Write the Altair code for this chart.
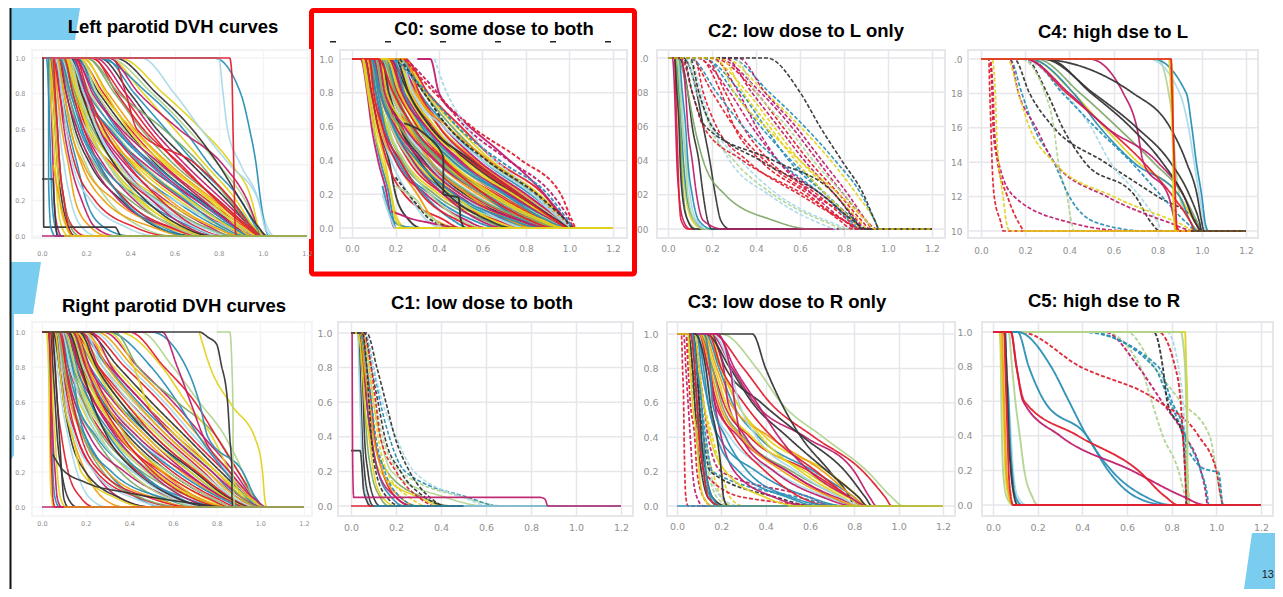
import altair as alt
import pandas as pd

# Every curve is read as the dose (x) at which the volume falls to these levels
Y_LEVELS = [1.0, 0.8, 0.6, 0.4, 0.2, 0.05, 0.0]
X_END = 1.2
COLORS = {"t": "#2a8fb5", "c": "#c01f6e", "y": "#e3d21c", "k": "#353535", "r": "#e0202f",
          "b": "#a9d9e8", "o": "#ef9f12", "g": "#7fa968", "l": "#b2d48f"}
DENSE_CYCLE = ["t", "c", "y", "k", "r", "b", "o", "c", "t", "g", "y", "r", "l"]
TITLES = ["Left parotid DVH curves", "C0: some dose to both", "C2: low dose to L only", "C4: high dse to L",
          "Right parotid DVH curves", "C1: low dose to both", "C3: low dose to R only", "C5: high dse to R"]
X_TICKS = [0.0, 0.2, 0.4, 0.6, 0.8, 1.0, 1.2]
Y_TICKS = [0.0, 0.2, 0.4, 0.6, 0.8, 1.0]

LEFT = [
 [.02,.03,.035,.04,.045,.06,.08],[.03,.04,.045,.05,.055,.07,.09],[.03,.04,.05,.06,.07,.09,.12],[.04,.05,.06,.07,.09,.12,.15],
 [.04,.055,.07,.08,.1,.14,.2],[.05,.07,.08,.1,.13,.18,.25],[.05,.07,.09,.12,.15,.22,.3],[.06,.08,.1,.13,.18,.24,.34],
 [.06,.09,.12,.16,.2,.28,.4],[.04,.06,.07,.08,.1,.13,.17],[.03,.05,.06,.07,.08,.11,.14],[.05,.06,.07,.08,.1,.12,.14],
 [.07,.1,.14,.2,.3,.45,.6],[.08,.12,.17,.25,.38,.55,.68],[.08,.13,.19,.28,.42,.6,.72],[.09,.14,.21,.3,.44,.65,.78],
 [.07,.11,.15,.22,.36,.52,.7],[.1,.15,.2,.32,.5,.7,.82],[.1,.16,.24,.35,.52,.73,.85],[.06,.1,.13,.18,.28,.5,.66],
 [.11,.18,.26,.38,.56,.76,.86],[.12,.2,.28,.4,.6,.8,.9],[.08,.12,.16,.24,.4,.62,.76],[.1,.17,.27,.42,.62,.82,.92],
 [.12,.18,.3,.44,.64,.84,.94],[.13,.22,.32,.46,.66,.86,.96],[.09,.14,.18,.27,.46,.68,.8],[.14,.24,.35,.5,.7,.88,.97],
 [.1,.15,.22,.34,.55,.78,.9],[.15,.26,.38,.52,.72,.9,.98],[.16,.28,.4,.55,.75,.92,.99],[.12,.17,.25,.36,.6,.84,.95],
 [.18,.3,.42,.58,.78,.93,1.0],[.14,.2,.3,.47,.7,.9,.98],[.13,.21,.33,.49,.68,.86,.94],[.2,.33,.45,.6,.8,.94,1.0],
 [.11,.16,.26,.43,.67,.85,.93],[.22,.36,.48,.62,.8,.94,1.0],[.17,.25,.37,.53,.74,.9,.97],[.16,.24,.34,.51,.71,.87,.94],
 [.24,.38,.5,.65,.82,.95,1.0],[.19,.29,.39,.56,.77,.91,.98],[.26,.4,.52,.68,.84,.95,1.01],[.23,.34,.46,.63,.79,.93,.99],
 [.09,.13,.2,.3,.48,.72,.86],[.07,.1,.13,.19,.33,.56,.74],[.15,.23,.36,.54,.73,.88,.96],[.28,.42,.56,.7,.86,.96,1.01],
 [.2,.35,.55,.72,.85,.95,1.0],[.3,.46,.6,.74,.88,.96,1.01],[.32,.38,.43,.7,.86,.95,1.0],[.3,.5,.66,.8,.92,.98,1.01],
 [.25,.48,.64,.76,.9,.97,1.0],[.3,.44,.62,.82,.93,.98,1.02],[.35,.55,.72,.86,.95,.98,1.0],[.33,.52,.68,.8,.9,.98,1.02],
 [.05,.08,.11,.15,.24,.42,.58],[.06,.09,.11,.14,.22,.38,.52],[.11,.19,.29,.41,.58,.78,.9],
 [.08,.11,.16,.23,.35,.58,.75],[.13,.19,.31,.45,.65,.82,.92],[.09,.15,.23,.33,.53,.74,.88],[.17,.27,.41,.57,.76,.89,.95],
 [.1,.14,.19,.26,.38,.58,.72],[.12,.17,.22,.3,.43,.6,.74],[.08,.13,.18,.26,.37,.53,.67],[.14,.2,.26,.36,.5,.66,.78],
 [.11,.16,.21,.31,.45,.62,.76],[.13,.18,.24,.33,.47,.64,.77],[.15,.21,.28,.39,.54,.7,.82],[.12,.19,.25,.35,.51,.69,.81],
]
LEFT_EXTRA = [
 ("b", 0, [0,.45,.6,.72,.85,.98,1.02,1.05,X_END], [1,1,.8,.6,.4,.2,.05,0,0]),
 ("t", 0, [0,.78,.9,.94,.97,.99,1.01,1.03,X_END], [1,1,.8,.6,.4,.2,.05,0,0]),
 ("b", 0, [0,.8,.82,.84,.9,.98,1.01,1.04,X_END], [1,1,.8,.6,.4,.2,.05,0,0]),
 ("k", 0, [0,.005,.006,.007,.008,.33,.36,X_END], [1,1,.6,.2,.05,.05,0,0]),
 ("k", 0, [0,.01,.05,.055,.06,.07,X_END], [.32,.32,.32,.2,.1,0,0]),
 ("r", 0, [0,.85,.86,.865,.87,.875,.88,X_END], [1,1,.9,.6,.3,.05,0,0]),
 ("t", 0, [.02,.03,.03,.04,.06,X_END], [1,1,.3,.05,0,0]),
 ("c", 0, [0,.08,X_END], [0,0,0]),
 ("o", 0, [.05,.1,.14,X_END], [.4,.1,0,0]),
 ("y", 0, [.1,.4,X_END], [0,0,0]),
 ("g", 0, [.3,.9,X_END], [0,0,0]),
]

C0 = [
 [.05,.08,.1,.13,.17,.19,.2],[.04,.07,.09,.12,.16,.18,.2],[.05,.08,.11,.15,.18,.21,.25],[.06,.09,.12,.17,.2,.26,.32],
 [.06,.09,.12,.16,.24,.42,.5],[.07,.1,.13,.18,.26,.34,.42],[.07,.1,.13,.2,.3,.38,.5],[.08,.11,.14,.2,.34,.52,.62],
 [.08,.11,.15,.21,.36,.55,.68],[.08,.12,.16,.23,.38,.6,.72],[.09,.12,.16,.24,.4,.64,.76],[.09,.13,.18,.26,.42,.66,.8],
 [.1,.13,.18,.27,.43,.68,.82],[.1,.14,.19,.28,.45,.7,.84],[.1,.15,.2,.3,.48,.72,.86],[.1,.15,.21,.31,.5,.74,.88],
 [.11,.16,.22,.33,.52,.76,.9],[.11,.16,.23,.34,.54,.78,.92],[.12,.17,.24,.36,.56,.8,.94],[.12,.18,.25,.38,.58,.82,.96],
 [.13,.18,.26,.39,.6,.84,.98],[.13,.19,.27,.41,.62,.86,.98],[.14,.2,.28,.42,.64,.88,1.0],[.14,.21,.3,.44,.66,.9,1.01],
 [.15,.21,.31,.46,.68,.9,1.01],[.15,.22,.32,.47,.7,.92,1.02],[.16,.23,.33,.48,.71,.92,1.02],[.16,.24,.34,.5,.72,.93,1.02],
 [.17,.25,.35,.52,.74,.94,1.02],[.17,.26,.36,.53,.75,.94,1.02],[.18,.27,.37,.54,.76,.95,1.02],[.18,.28,.38,.56,.78,.95,1.02],
 [.2,.29,.4,.57,.79,.96,1.02],[.2,.3,.42,.58,.8,.96,1.02],[.22,.31,.44,.6,.82,.97,1.02],[.22,.33,.46,.62,.84,.97,1.02],
 [.23,.34,.48,.64,.86,.98,1.03],[.24,.35,.5,.66,.88,.98,1.03],[.1,.14,.17,.24,.36,.5,.6],[.09,.12,.15,.22,.33,.46,.54],
 [.12,.16,.2,.28,.42,.58,.7],[.11,.15,.2,.29,.46,.64,.76],[.13,.17,.22,.31,.44,.62,.74],[.08,.1,.14,.22,.32,.48,.58],
 [.14,.19,.24,.34,.5,.68,.8],[.15,.19,.26,.36,.53,.72,.84],[.12,.15,.24,.38,.6,.78,.88],[.16,.2,.28,.4,.6,.78,.9],
 [.11,.14,.22,.35,.55,.8,.93],[.13,.16,.26,.4,.63,.85,.97],[.17,.22,.3,.43,.66,.88,.99],[.15,.18,.29,.45,.69,.9,1.0],
 [.19,.24,.32,.46,.7,.89,1.0],[.18,.23,.34,.49,.73,.92,1.01],[.21,.27,.38,.51,.74,.93,1.01],[.2,.26,.36,.55,.77,.94,1.01],
 [.24,.31,.4,.56,.77,.93,1.0],[.22,.28,.42,.6,.83,.96,1.02],[.25,.3,.44,.63,.85,.97,1.02],[.1,.13,.2,.32,.5,.76,.9],
 [.09,.13,.19,.3,.47,.73,.87],[.14,.2,.27,.4,.6,.83,.95],[.16,.22,.31,.44,.65,.87,.98],[.12,.19,.28,.42,.61,.81,.93],
]
C0_EXTRA = [
 ("c", 0, [.3,.36,.4,.5,.68,.85,.95,1.02,X_END], [1,1,.8,.65,.45,.25,.1,0,0]),
 ("r", 1, [.24,.38,.55,.78,.96,1.01,1.03,X_END], [1,.8,.6,.4,.2,.05,0,0]),
 ("c", 1, [.25,.36,.52,.72,.92,1.0,1.02,X_END], [1,.85,.6,.4,.2,.05,0,0]),
 ("b", 1, [.38,.42,.5,.62,.8,.97,1.02,X_END], [1,.85,.65,.45,.25,.05,0,0]),
 ("k", 1, [.22,.32,.44,.62,.85,.98,1.02,X_END], [1,.82,.6,.4,.2,.05,0,0]),
 ("t", 1, [.2,.36,.5,.7,.9,.99,1.02,X_END], [1,.78,.58,.38,.2,.05,0,0]),
 ("k", 0, [.24,.34,.42,.42,.49,.5,.52,X_END], [.62,.55,.42,.2,.18,.05,0,0]),
 ("k", 1, [.2,.26,.31,.36,.5,X_END], [.3,.2,.12,.05,0,0]),
 ("c", 0, [.18,.22,.26,.36,.5,X_END], [.1,.08,.06,.03,0,0]),
 ("t", 0, [.14,.17,.2,.26,.34,X_END], [.25,.1,.03,.005,0,0]),
 ("l", 0, [.2,.26,.3,.33,.38,.42,X_END], [.25,.2,.16,.1,.05,0,0]),
 ("b", 0, [.14,.18,.2,X_END], [.2,.05,0,0]),
 ("y", 0, [.05,.1,.16,.18,.2,.24,X_END], [1,.6,.3,.2,.05,0,0]),
 ("y", 0, [.2,.6,X_END], [0,0,0]),
]

C2_LOW = [
 ("c",[.02,.03,.035,.04,.05,.07,.1]),("r",[.03,.035,.04,.045,.05,.06,.09]),("y",[.03,.05,.055,.065,.08,.11,.16]),
 ("t",[.04,.05,.06,.07,.085,.12,.17]),("g",[.03,.045,.055,.06,.07,.09,.13]),("k",[.03,.04,.05,.055,.065,.09,.12]),
 ("b",[.04,.06,.07,.085,.1,.13,.18]),("l",[.04,.055,.065,.08,.09,.12,.16]),("t",[.05,.065,.08,.09,.11,.14,.2]),
 ("k",[.05,.09,.11,.14,.16,.18,.2]),("k",[.07,.13,.16,.19,.215,.24,.28]),("g",[.04,.09,.12,.16,.26,.48,.65]),
 ("c",[.06,.08,.09,.11,.13,.16,.25]),
]
C2_DASH = [
 ("r",[.1,.2,.3,.44,.66,.84,.88]),("c",[.13,.28,.38,.5,.7,.85,.89]),("t",[.15,.33,.44,.55,.72,.85,.9]),
 ("y",[.18,.36,.48,.6,.76,.87,.91]),("r",[.2,.4,.52,.64,.78,.88,.92]),("c",[.22,.42,.56,.68,.8,.9,.95]),
 ("y",[.25,.44,.6,.74,.86,.94,.96]),("t",[.28,.46,.62,.76,.88,.94,.96]),("r",[.12,.16,.22,.36,.6,.8,.88]),
 ("b",[.08,.13,.2,.33,.5,.72,.85]),("b",[.1,.15,.2,.28,.46,.66,.78]),("l",[.09,.14,.19,.3,.48,.7,.82]),
 ("t",[.16,.3,.42,.56,.72,.82,.86]),("r",[.14,.24,.3,.42,.64,.78,.84]),("c",[.2,.32,.4,.5,.66,.8,.86]),
 ("y",[.24,.34,.46,.58,.72,.84,.88]),("c",[.26,.38,.5,.62,.76,.86,.9]),("r",[.17,.26,.34,.46,.68,.82,.87]),
 ("l",[.3,.4,.54,.66,.8,.9,.93]),("t",[.1,.22,.34,.5,.7,.83,.87]),("c",[.32,.44,.58,.7,.82,.9,.93]),
 ("r",[.06,.11,.16,.34,.62,.8,.87]),("k",[.07,.11,.17,.48,.76,.85,.88]),("k",[.45,.6,.69,.79,.89,.94,.96]),
 ("k",[.1,.14,.2,.42,.7,.84,.9]),("y",[.22,.3,.44,.6,.78,.9,.94]),
]

C4_SOLID = [
 ("l",[.8,.85,.87,.88,.9,.95,1.0]),("b",[.76,.9,.94,.965,.99,1.01,1.02]),("t",[.78,.93,.955,.975,1.0,1.015,1.03]),
 ("g",[.25,.45,.62,.78,.92,.98,1.0]),("y",[.22,.42,.56,.71,.9,.97,1.0]),("t",[.22,.42,.54,.69,.9,.95,.98]),
 ("r",[.2,.39,.57,.735,.87,.95,.97]),("c",[.2,.4,.57,.8,.92,.97,1.0]),("c",[.49,.645,.706,.735,.85,.88,.9]),
 ("k",[.3,.5,.68,.82,.92,.97,1.0]),("k",[.28,.51,.706,.857,.947,.99,1.0]),("k",[.25,.69,.857,.93,.98,1.0,1.01]),
 ("y",[.85,.86,.865,.87,.87,.875,.88]),("o",[.86,.87,.87,.875,.88,.88,.885]),("r",[.86,.865,.87,.875,.88,.885,.89]),
]
C4_DASH = [
 ("k",[.15,.22,.33,.56,.8,.98,1.0]),("k",[.2,.3,.37,.47,.7,.77,.81]),("l",[.18,.29,.33,.35,.39,.41,.42]),
 ("b",[.18,.38,.5,.585,.72,.8,.82]),("t",[.13,.185,.24,.33,.4,.52,.75]),("c",[.13,.17,.25,.33,.57,.85,.97]),
 ("y",[.12,.17,.22,.33,.6,.89,.98]),("c",[.04,.055,.06,.08,.15,.4,.68]),("r",[.04,.05,.055,.075,.12,.17,.2]),
 ("r",[.035,.04,.045,.05,.06,.09,.1]),("y",[.05,.065,.07,.08,.1,.115,.13]),("t",[.22,.37,.52,.68,.82,.93,.98]),
]
C4_BASE = [("y", 1, [.2,1.0,X_END], [0,0,0]), ("k", 0, [.95,1.02,X_END], [0,0,0])]

RIGHT = [
 [.03,.035,.04,.045,.05,.06,.08],[.03,.04,.045,.05,.06,.07,.09],[.04,.045,.05,.06,.07,.085,.11],[.04,.05,.06,.07,.09,.12,.16],
 [.04,.06,.07,.09,.12,.18,.24],[.05,.07,.09,.12,.16,.22,.3],[.05,.08,.1,.14,.2,.28,.38],[.06,.08,.11,.16,.24,.36,.5],
 [.06,.09,.13,.2,.3,.44,.56],[.07,.1,.15,.24,.36,.54,.66],[.07,.11,.17,.26,.4,.58,.72],[.08,.12,.19,.29,.44,.62,.76],
 [.08,.13,.2,.31,.48,.66,.8],[.09,.14,.22,.33,.5,.7,.84],[.09,.15,.24,.36,.53,.72,.86],[.1,.16,.25,.38,.56,.75,.87],
 [.1,.17,.27,.4,.58,.78,.88],[.11,.18,.28,.42,.6,.8,.9],[.11,.19,.3,.44,.62,.82,.92],[.12,.2,.31,.46,.64,.83,.94],
 [.12,.21,.33,.48,.66,.84,.96],[.13,.22,.34,.5,.68,.85,.98],[.13,.24,.36,.52,.7,.86,.98],[.14,.25,.38,.54,.72,.86,1.0],
 [.14,.26,.4,.56,.74,.87,1.0],[.15,.28,.42,.58,.76,.88,1.0],[.16,.3,.44,.6,.78,.9,1.0],[.17,.31,.46,.62,.8,.92,1.01],
 [.18,.33,.48,.64,.8,.93,1.01],[.2,.35,.5,.66,.82,.95,1.02],[.21,.38,.54,.68,.84,.96,1.02],[.23,.4,.56,.7,.85,.96,1.02],
 [.25,.42,.58,.72,.86,.96,1.02],[.28,.44,.6,.74,.88,.97,1.02],[.3,.5,.62,.72,.84,.94,1.0],[.33,.44,.62,.8,.9,.97,1.02],
 [.35,.55,.66,.78,.86,.92,.97],[.4,.56,.7,.8,.9,.98,1.02],[.45,.6,.72,.84,.92,.97,1.0],[.5,.66,.72,.76,.92,.98,1.02],
 [.55,.62,.68,.74,.86,.97,1.03],[.3,.42,.48,.62,.8,.95,1.02],[.05,.08,.1,.13,.2,.36,.5],[.06,.09,.12,.16,.25,.45,.62],
 [.07,.09,.11,.15,.24,.42,.6],[.08,.1,.13,.19,.3,.52,.7],[.08,.11,.15,.22,.38,.6,.78],[.09,.12,.16,.25,.42,.66,.82],
 [.1,.14,.19,.28,.46,.7,.84],[.11,.15,.21,.32,.5,.72,.86],[.12,.17,.24,.35,.55,.76,.87],[.13,.19,.26,.38,.58,.78,.88],
 [.14,.2,.28,.42,.62,.82,.92],[.15,.22,.3,.44,.65,.84,.94],[.16,.24,.34,.48,.68,.85,.96],[.17,.25,.36,.5,.7,.86,.97],
 [.18,.26,.38,.52,.71,.87,.98],[.19,.28,.4,.55,.73,.88,.99],[.2,.3,.43,.58,.76,.9,1.0],[.22,.32,.46,.6,.78,.92,1.01],
 [.1,.14,.16,.2,.32,.56,.72],[.07,.1,.14,.19,.28,.46,.66],[.06,.08,.1,.14,.18,.34,.48],[.09,.11,.14,.18,.27,.5,.68],
 [.1,.15,.2,.27,.4,.58,.72],[.12,.16,.22,.31,.45,.63,.77],[.11,.17,.24,.34,.49,.66,.79],[.13,.18,.26,.36,.52,.7,.83],
 [.12,.18,.23,.3,.43,.62,.78],[.14,.2,.27,.37,.51,.69,.84],[.09,.13,.18,.26,.42,.6,.74],[.15,.21,.29,.39,.55,.72,.85],
]
RIGHT_EXTRA = [
 ("y", 0, [0,.02,.03,.035,.04,.045,.05,X_END], [1,1,.8,.4,.1,.05,0,0]),
 ("r", 0, [0,.03,.04,.04,.045,.05,.06,X_END], [1,1,.8,.4,.2,.05,0,0]),
 ("k", 0, [.05,.06,.07,.08,.09,.1,.12,X_END], [1,.8,.6,.4,.2,.05,0,0]),
 ("k", 0, [.05,.09,.2,.4,.7,.85,X_END], [.3,.22,.14,.08,.02,0,0]),
 ("y", 0, [.72,.77,.87,.98,1.01,1.02,1.03,X_END], [1,.8,.58,.38,.2,.05,0,0]),
 ("l", 0, [.8,.86,.87,.875,.875,.88,.88,X_END], [1,1,.8,.5,.2,.05,0,0]),
 ("k", 0, [0,.72,.76,.8,.82,.85,.86,.87,.87,.875,X_END], [1,1,.97,.93,.82,.6,.4,.2,.05,0,0]),
 ("g", 0, [.875,1.0,X_END], [.1,0,0]),
 ("c", 0, [0,.1,X_END], [0,0,0]),
 ("o", 0, [.1,.7,X_END], [0,0,0]),
 ("g", 0, [.7,1.1,X_END], [0,0,0]),
]

C1 = [
 ("y",[.03,.05,.07,.085,.13,.3,.42]),("g",[.04,.06,.08,.1,.16,.32,.45]),("l",[.05,.08,.1,.13,.18,.42,.6]),
 ("t",[.04,.06,.07,.09,.12,.18,.24]),("r",[.05,.07,.09,.105,.14,.2,.27]),("c",[.04,.055,.07,.09,.12,.2,.28]),
 ("g",[.035,.05,.06,.07,.09,.13,.17]),("k",[.04,.05,.055,.06,.075,.1,.13]),("k",[.03,.04,.045,.05,.06,.08,.1]),
 ("b",[.03,.035,.04,.045,.05,.07,.09]),("y",[.03,.05,.06,.08,.1,.14,.2]),("o",[.04,.06,.08,.1,.14,.22,.3]),
]
C1_DASH = [
 ("l",[.05,.08,.11,.14,.22,.5,.68]),("t",[.06,.1,.13,.17,.24,.52,.66]),("b",[.06,.1,.14,.2,.28,.5,.62]),
 ("k",[.06,.09,.12,.15,.22,.33,.43]),("k",[.07,.115,.155,.195,.26,.35,.42]),("r",[.05,.09,.11,.13,.2,.3,.38]),
 ("y",[.05,.08,.1,.12,.16,.26,.34]),("t",[.04,.07,.09,.11,.15,.22,.3]),("k",[.05,.07,.08,.09,.11,.16,.22]),
]
C1_EXTRA = [
 ("k", 0, [0,.01,.04,.05,.055,.07,.085,X_END], [.32,.32,.32,.2,.1,.03,0,0]),
 ("t", 0, [.1,.7,X_END], [0,0,0]),
 ("b", 0, [.5,1.0,X_END], [0,0,0]),
 ("c", 0, [.005,.006,.008,.012,.84,.862,.875,X_END], [1,.6,.2,.05,.05,.04,0,0]),
 ("r", 0, [0,.1], [0,0]),
]

C3 = [
 ("l",[.2,.36,.47,.66,.86,.97,1.02]),("r",[.16,.3,.42,.62,.84,.94,.97]),("c",[.15,.25,.35,.58,.8,.87,.9]),
 ("k",[.15,.22,.38,.57,.76,.85,.88]),("k",[.34,.4,.47,.56,.69,.78,.8]),("y",[.12,.2,.27,.4,.68,.82,.86]),
 ("t",[.13,.19,.25,.37,.62,.8,.85]),("r",[.1,.16,.21,.33,.6,.78,.84]),("o",[.12,.18,.24,.42,.66,.8,.86]),
 ("c",[.1,.14,.17,.28,.5,.7,.8]),("b",[.1,.13,.16,.24,.44,.68,.8]),("t",[.09,.12,.14,.19,.36,.6,.76]),
 ("c",[.12,.15,.17,.2,.26,.44,.6]),("y",[.08,.1,.12,.15,.22,.4,.55]),("r",[.1,.14,.18,.26,.4,.56,.7]),
 ("g",[.11,.16,.2,.3,.52,.74,.82]),("t",[.09,.11,.14,.18,.28,.5,.64]),("c",[.14,.21,.23,.31,.5,.72,.85]),
 ("y",[.15,.2,.27,.38,.56,.75,.82]),("k",[.13,.24,.34,.5,.68,.82,.86]),("r",[.14,.2,.3,.43,.63,.78,.84]),
 ("b",[.16,.24,.28,.36,.54,.74,.84]),("y",[.11,.17,.22,.34,.58,.77,.86]),("c",[.18,.24,.26,.29,.44,.66,.8]),
 ("o",[.1,.15,.19,.29,.48,.7,.83]),("t",[.12,.15,.16,.22,.32,.52,.72]),("c",[.18,.26,.36,.46,.6,.78,.86]),
 ("k",[.08,.13,.15,.18,.2,.21,.23]),("k",[.05,.07,.08,.09,.11,.14,.2]),("t",[.06,.08,.09,.105,.12,.15,.18]),
 ("k",[.07,.09,.1,.11,.13,.16,.22]),("t",[.07,.09,.11,.12,.13,.16,.2]),("r",[.06,.08,.09,.1,.12,.14,.2]),
 ("y",[.05,.06,.07,.09,.1,.12,.16]),
]
C3_DASH = [
 ("r",[.02,.025,.03,.032,.035,.04,.05]),("c",[.03,.04,.05,.06,.07,.09,.12]),("y",[.05,.07,.09,.12,.16,.2,.25]),
 ("b",[.05,.08,.1,.13,.15,.2,.28]),("g",[.04,.06,.08,.1,.12,.16,.22]),("r",[.04,.05,.06,.08,.09,.12,.16]),
 ("l",[.05,.07,.09,.11,.14,.18,.24]),("y",[.06,.09,.12,.16,.2,.24,.3]),("c",[.08,.1,.12,.14,.2,.6,.7]),
 ("t",[.07,.09,.11,.13,.16,.55,.75]),("k",[.07,.09,.1,.12,.15,.45,.62]),("r",[.05,.07,.09,.1,.12,.3,.75]),
]
C3_BASE = [("t", 0, [0,.05,X_END], [0,0,0]), ("y", 0, [.5,.9,X_END], [0,0,0])]

C5_SOLID = [
 ("l",[.03,.035,.037,.04,.045,.06,.09]),("y",[.03,.04,.045,.05,.055,.07,.09]),("o",[.04,.045,.05,.055,.06,.075,.09]),
 ("l",[.07,.085,.1,.12,.14,.175,.2]),("b",[.055,.06,.07,.08,.09,.11,.15]),("t",[.055,.06,.07,.075,.085,.1,.13]),
 ("k",[.05,.06,.065,.07,.08,.095,.11]),("r",[.05,.055,.06,.065,.07,.08,.09]),
 ("y",[.86,.865,.87,.87,.87,.875,.88]),("l",[.84,.86,.865,.87,.87,.875,.88]),
 ("t",[.11,.26,.34,.42,.53,.68,.8]),("t",[.11,.16,.23,.42,.515,.635,.78]),
 ("c",[.08,.105,.135,.3,.62,.85,.95]),("r",[.08,.105,.14,.38,.65,.77,.83]),
]
C5_DASH = [
 ("l",[.5,.66,.71,.76,.83,.86,.87]),("l",[.6,.72,.84,.97,1.0,1.02,1.03]),("b",[.78,.83,.85,.86,.865,.87,.87]),
 ("c",[.5,.65,.755,.86,.93,.955,.96]),("t",[.42,.72,.79,.86,.93,.96,.965]),("t",[.4,.74,.8,.86,.87,.875,.88]),
 ("k",[.72,.76,.78,.85,.86,.865,.865]),("r",[.74,.815,.84,.85,.86,.865,.87]),("r",[.12,.39,.74,.92,1.0,1.02,1.03]),
]
C5_BASE = [("t", 1, [.88,.93,.97,1.01,1.03,X_END], [.3,.22,.2,.19,0,0]), ("r", 0, [.09,1.0,X_END], [0,0,0])]


def solid(items, dash=0):
    return [(c, dash, [0.0] + xs + [X_END], [1.0] + Y_LEVELS + [0.0]) for c, xs in items]


def cycled(rows):
    return [(DENSE_CYCLE[i % len(DENSE_CYCLE)], rows[i]) for i in range(len(rows))]


def blank():
    return alt.Chart(pd.DataFrame({"a": [0]}))


def panel(title, rect_, frame_left, xpx, ypx, curves, lw, label_size, lab_x, lab_y, frame, t_y, t_x, ylabel=None):
    # rect_ is the grid cell (columns are shared between the rows); the frame drawn inside it starts at frame_left
    left, right, top, bottom = rect_
    ppu = (xpx[1] - xpx[0]) / 1.2
    x_dom = [(left - xpx[0]) / ppu, (right - xpx[0]) / ppu]
    yu = ypx[1] - ypx[0]
    y_dom = [(ypx[1] - bottom) / yu, (ypx[1] - top) / yu]
    y_scale = alt.Scale(domain=y_dom, nice=False, zero=False)
    rows = []
    for k, (c, d, xs, ys) in enumerate(curves):
        for i, (a, b) in enumerate(zip(xs, ys)):
            rows.append({"curve": k, "i": i, "dose": a, "vol": b, "col": COLORS[c], "dash": "d" if d else "s"})
    y_axis = dict(values=Y_TICKS, format=".1f", title=None, domain=False, ticks=False, grid=False,
                  labelFontSize=label_size, labelColor="#8f8f8f", labelPadding=lab_y, labelFont="DejaVu Sans")
    if ylabel:
        y_axis["labelExpr"] = ylabel
    inset = frame_left - left
    box = blank().mark_rect(filled=False, stroke=frame, strokeWidth=2).encode(
        x=alt.value(inset), x2=alt.value(right - left), y=alt.value(0), y2=alt.value(bottom - top))
    grid = alt.Chart(pd.DataFrame({"vol": Y_TICKS})).mark_rule(color=frame, strokeWidth=1.5).encode(
        y=alt.Y("vol:Q", scale=y_scale, axis=alt.Axis(**y_axis)), x=alt.value(inset), x2=alt.value(right - left))
    lines = alt.Chart(pd.DataFrame(rows)).mark_line(strokeWidth=lw, interpolate="monotone", clip=False, opacity=0.95).encode(
        x=alt.X("dose:Q", scale=alt.Scale(domain=x_dom, nice=False, zero=False),
                axis=alt.Axis(values=X_TICKS, format=".1f", title=None, domain=False, ticks=False, grid=True,
                              gridColor=frame, gridWidth=1.5, labelFontSize=label_size, labelColor="#8f8f8f",
                              labelPadding=lab_x, labelFont="DejaVu Sans", labelFlush=False)),
        y=alt.Y("vol:Q", scale=y_scale, axis=alt.Axis(**y_axis)),
        color=alt.Color("col:N", scale=None),
        strokeDash=alt.StrokeDash("dash:N", scale=alt.Scale(domain=["s", "d"], range=[[1, 0], [4, 2]]), legend=None),
        detail="curve:N",
        order="i:Q",
    )
    return alt.layer(box, grid, lines).properties(
        width=right - left, height=bottom - top,
        view=alt.ViewBackground(stroke=None),
        title=alt.TitleParams(title, font="Liberation Sans", fontSize=18.5, fontWeight="bold", color="#000000",
                              anchor="middle", baseline="middle", offset=top - t_y - 19, dx=t_x - (left + right) / 2),
    )


def spacer(w, h):
    return blank().mark_point(opacity=0, size=1).encode(x=alt.value(w / 2), y=alt.value(h / 2)).properties(width=w, height=h, view=alt.ViewBackground(stroke=None))


# Slide furniture, written in page pixels and moved into the frame of the first spacer
OX, OY = 8, 50
def poly(points, color):
    d = "M" + "L".join(f"{x - OX},{y - OY}" for x, y in points) + "Z"
    return blank().mark_point(shape=d, size=4, filled=True, opacity=1, color=color, strokeWidth=0).encode(
        x=alt.value(0), y=alt.value(0))

def rect(x0, x1, y0, y1, **kw):
    return blank().mark_rect(**kw).encode(
        x=alt.value(x0 - OX), x2=alt.value(x1 - OX), y=alt.value(y0 - OY), y2=alt.value(y1 - OY))

BLUE = "#7bcdf0"
decor = [
    rect(8, 1275, 8, 589, color="#ffffff"),
    poly([(11, 8), (80, 8), (75, 40), (11, 40)], BLUE),
    poly([(11, 262), (41, 262), (33, 314), (14, 314), (14, 455), (11, 460)], BLUE),
    poly([(1252, 533), (1275, 533), (1275, 589), (1244, 589)], BLUE),
    rect(9.5, 11.5, 8, 589, color="#111111"),
    rect(311.5, 634.5, 10.5, 274, filled=False, stroke="#ff0000", strokeWidth=5, cornerRadius=2),
]
decor += [rect(p - 3, p + 3, 41, 42.5, color="#222222") for p in (333, 388, 443, 498, 553, 608)]
decor.append(blank().mark_text(font="Liberation Sans", fontSize=11, color="#222222", align="right").encode(
    x=alt.value(1274 - OX), y=alt.value(575 - OY), text=alt.value("13")))
furniture = alt.layer(*decor).properties(width=24, height=188, view=alt.ViewBackground(stroke=None))

PALE, SOFT = "#f4f4f6", "#e6e6eb"
TOP, BOT = 50, 238
TOP2, BOT2 = 322, 516
COL = [32, 338, 657, 968]   # cell starts, the same in both rows

p_left = panel(TITLES[0], (COL[0], 310, TOP, BOT), 32, (42, 307), (58, 236),
               solid(cycled(LEFT)) + LEFT_EXTRA, 1.6, 6.5, 12, 7, PALE, 27, 173)
p_c0 = panel(TITLES[1], (COL[1], 627, TOP, BOT), 340, (352, 613), (59, 228),
             solid(cycled(C0)) + C0_EXTRA, 1.9, 9, 6, 5, SOFT, 29, 494)
p_c2 = panel(TITLES[2], (COL[2], 945, TOP, BOT), 657, (668, 932), (58, 229),
             solid(C2_LOW) + solid(C2_DASH, 1), 1.6, 9, 6, 9, SOFT, 31, 806,
             ylabel="datum.value == 1 ? '.0' : replace(format(datum.value, '.1f'), '.', '')")
p_c4 = panel(TITLES[3], (COL[3], 1258, TOP, BOT), 968, (981, 1246), (59, 231),
             solid(C4_DASH, 1) + solid(C4_SOLID) + C4_BASE, 1.7, 9, 8, 6, SOFT, 32, 1113,
             ylabel="datum.value == 1 ? '.0' : '1' + substring(format(datum.value, '.1f'), 2)")
p_right = panel(TITLES[4], (COL[0], 312, TOP2, BOT2), 32, (42, 304), (332, 507),
                solid(cycled(RIGHT)) + RIGHT_EXTRA, 1.6, 6.5, 4, 7, PALE, 306, 174)
p_c1 = panel(TITLES[5], (COL[1], 633, TOP2, BOT2), 338, (351, 621), (333, 506),
             solid(C1) + solid(C1_DASH, 1) + C1_EXTRA, 1.6, 9.5, 6, 6, SOFT, 303, 482)
p_c3 = panel(TITLES[6], (COL[2], 955, TOP2, BOT2), 667, (677, 943), (334, 506),
             solid(C3_DASH, 1) + solid(C3) + C3_BASE, 1.7, 9.5, 5, -1, SOFT, 302, 787)
p_c5 = panel(TITLES[7], (COL[3], 1273, TOP2, BOT2), 982, (993, 1261), (332, 505),
             solid(C5_DASH, 1) + solid(C5_SOLID) + C5_BASE, 1.9, 9.5, 6, -4, SOFT, 301, 1104)

chart = alt.concat(
    furniture, p_left, spacer(26, 188), p_c0, spacer(24, 188), p_c2, spacer(13, 188), p_c4,
    spacer(24, 194), p_right, spacer(26, 194), p_c1, spacer(24, 194), p_c3, spacer(13, 194), p_c5,
    columns=8, align="none", bounds="flush", spacing={"row": TOP2 - BOT, "column": 0},
).properties(padding=0)
chart.save("out.html", embed_options={"renderer": "svg", "actions": False})
